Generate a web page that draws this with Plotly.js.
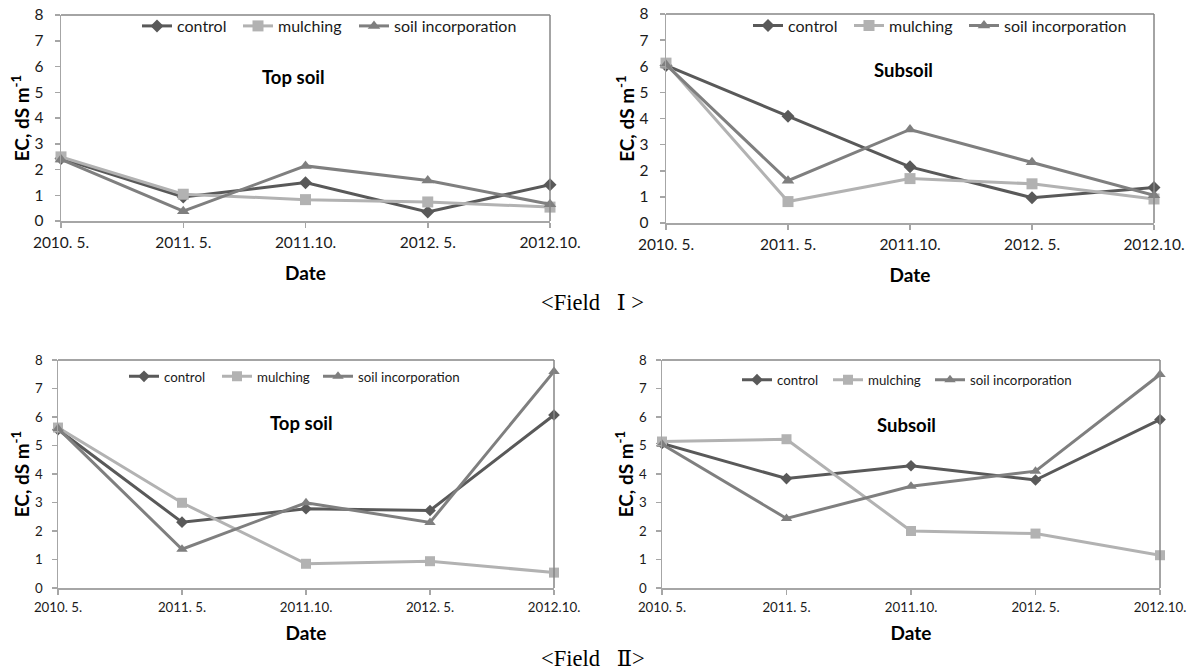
<!DOCTYPE html>
<html>
<head>
<meta charset="utf-8">
<script src="https://cdn.plot.ly/plotly-3.0.1.min.js"></script>
<style>html,body{margin:0;padding:0;background:#fff;}#chart{width:1193px;height:670px;}</style>
</head>
<body>
<div id="chart"></div>
<script>
// Dates (category labels)
const dates = ['2010. 5.', '2011. 5.', '2011.10.', '2012. 5.', '2012.10.'];
const seriesNames = ['control', 'mulching', 'soil incorporation'];

// Field I, top soil
const f1TopControl = [2.43, 0.93, 1.49, 0.35, 1.41];
const f1TopMulching = [2.49, 1.04, 0.83, 0.74, 0.54];
const f1TopSoilInc = [2.39, 0.38, 2.14, 1.57, 0.65];
// Field I, subsoil
const f1SubControl = [6.03, 4.09, 2.15, 0.97, 1.36];
const f1SubMulching = [6.12, 0.82, 1.70, 1.50, 0.92];
const f1SubSoilInc = [6.06, 1.62, 3.58, 2.33, 1.06];
// Field II, top soil
const f2TopControl = [5.56, 2.31, 2.78, 2.72, 6.07];
const f2TopMulching = [5.63, 2.99, 0.85, 0.94, 0.54];
const f2TopSoilInc = [5.60, 1.36, 2.99, 2.30, 7.60];
// Field II, subsoil
const f2SubControl = [5.07, 3.84, 4.29, 3.79, 5.91];
const f2SubMulching = [5.14, 5.22, 2.00, 1.91, 1.15];
const f2SubSoilInc = [5.04, 2.44, 3.57, 4.10, 7.49];

const panelTitles = ['Top soil', 'Subsoil', 'Top soil', 'Subsoil'];
const fieldCaptions = ['&lt;Field\u2002\u00A0Ⅰ &gt;', '&lt;Field\u2002\u00A0Ⅱ&gt;'];

const FONT = 'Lato, "Open Sans", sans-serif';
const SERIF = '"Liberation Serif", "DejaVu Serif", serif';
const colors = ['#595959', '#b2b2b2', '#7f7f7f'];
const symbols = ['diamond', 'square', 'triangle-up'];
const msizes = [10, 11, 11];

const panels = [
  {vals: [f1TopControl, f1TopMulching, f1TopSoilInc], big: true},
  {vals: [f1SubControl, f1SubMulching, f1SubSoilInc], big: true},
  {vals: [f2TopControl, f2TopMulching, f2TopSoilInc], big: false},
  {vals: [f2SubControl, f2SubMulching, f2SubSoilInc], big: false}
];

const W = 1193, H = 670;
const boxes = [
  {x0: 61, x1: 550, y0: 15, y1: 221},
  {x0: 666, x1: 1154, y0: 14, y1: 223},
  {x0: 58, x1: 554, y0: 360, y1: 588},
  {x0: 662, x1: 1160, y0: 360, y1: 588}
];
// legend entry positions (sample start x, centre y) per panel
const legendX = [[142, 243, 359], [753, 854, 969], [129, 222, 323], [742, 833, 935]];
const legendY = [26, 25.7, 376.7, 380];
const legendFont = [16, 16, 13.3, 13.3];
const titlePos = [{x: 293, y: 77}, {x: 903, y: 70}, {x: 301, y: 423}, {x: 906, y: 425}];

const traces = [];
const layout = {
  width: W, height: H,
  margin: {l: 0, r: 0, t: 0, b: 0},
  paper_bgcolor: '#fff', plot_bgcolor: '#fff',
  font: {family: FONT, color: '#000'},
  showlegend: true,
  annotations: [],
  shapes: []
};

panels.forEach((p, k) => {
  const sfx = k === 0 ? '' : String(k + 1);
  const b = boxes[k];
  const big = p.big;
  const tick = big ? 15.5 : 13.3;
  p.vals.forEach((v, i) => {
    const li = k * 3 + i + 1;
    const legName = li === 1 ? 'legend' : 'legend' + li;
    traces.push({
      type: 'scatter', mode: 'lines+markers',
      x: dates, y: v, name: seriesNames[i],
      xaxis: 'x' + sfx, yaxis: 'y' + sfx, legend: legName,
      line: {color: colors[i], width: 3},
      marker: {color: colors[i], symbol: symbols[i], size: big ? msizes[i] : msizes[i] - 1},
      cliponaxis: false
    });
    layout[legName] = {
      orientation: 'h', x: (legendX[k][i] - 5) / W, y: 1 - legendY[k] / H,
      xanchor: 'left', yanchor: 'middle',
      bgcolor: 'rgba(0,0,0,0)', borderwidth: 0,
      font: {family: FONT, size: legendFont[k], color: '#1a1a1a'},
      itemwidth: 30, itemclick: false, itemdoubleclick: false
    };
  });
  layout['xaxis' + sfx] = {
    anchor: 'y' + sfx,
    domain: [b.x0 / W, b.x1 / W], type: 'category', range: [0, 4],
    showgrid: false, zeroline: false, showline: true, linecolor: '#a6a6a6', linewidth: 1.5,
    ticks: 'outside', ticklen: 5, tickcolor: '#a6a6a6', tickwidth: 1.5, ticklabelstandoff: 2,
    tickfont: {family: FONT, size: tick, color: '#1a1a1a'},
    title: {text: 'Date', font: {family: FONT, size: 19, weight: 'bold', color: '#000'}, standoff: big ? 16 : 12},
    fixedrange: true
  };
  layout['yaxis' + sfx] = {
    anchor: 'x' + sfx,
    domain: [1 - b.y1 / H, 1 - b.y0 / H], range: [0, 8], dtick: 1,
    showgrid: false, zeroline: false, showline: true, linecolor: '#a6a6a6', linewidth: 1.5,
    ticks: 'outside', ticklen: 5, tickcolor: '#a6a6a6', tickwidth: 1.5, ticklabelstandoff: big ? 8 : 6,
    tickfont: {family: FONT, size: tick, color: '#1a1a1a'},
    title: {text: 'EC, dS m<sup>-1</sup>', font: {family: FONT, size: 19, weight: 'bold', color: '#000'}, standoff: 0},
    fixedrange: true
  };
  const tp = titlePos[k];
  layout.annotations.push({
    text: panelTitles[k], xref: 'paper', yref: 'paper', x: tp.x / W, y: 1 - tp.y / H,
    xanchor: 'center', yanchor: 'middle', showarrow: false,
    font: {family: FONT, size: 18.5, weight: 'bold', color: '#000'}
  });
  layout.shapes.push({type: 'line', xref: 'x' + sfx + ' domain', yref: 'y' + sfx + ' domain', x0: 0, x1: 1, y0: 1, y1: 1, line: {color: '#868686', width: 1.5}});
  layout.shapes.push({type: 'line', xref: 'x' + sfx + ' domain', yref: 'y' + sfx + ' domain', x0: 1, x1: 1, y0: 0, y1: 1, line: {color: '#868686', width: 1.5}});
});

layout.annotations.push({
  text: fieldCaptions[0], xref: 'paper', yref: 'paper', x: 539 / W, y: 1 - 303 / H,
  xanchor: 'left', yanchor: 'middle', showarrow: false,
  font: {family: SERIF, size: 22.5, color: '#000'}
});
layout.annotations.push({
  text: fieldCaptions[1], xref: 'paper', yref: 'paper', x: 539 / W, y: 1 - 658 / H,
  xanchor: 'left', yanchor: 'middle', showarrow: false,
  font: {family: SERIF, size: 22.5, color: '#000'}
});

Plotly.newPlot('chart', traces, layout, {staticPlot: true, displayModeBar: false});
</script>
</body>
</html>
